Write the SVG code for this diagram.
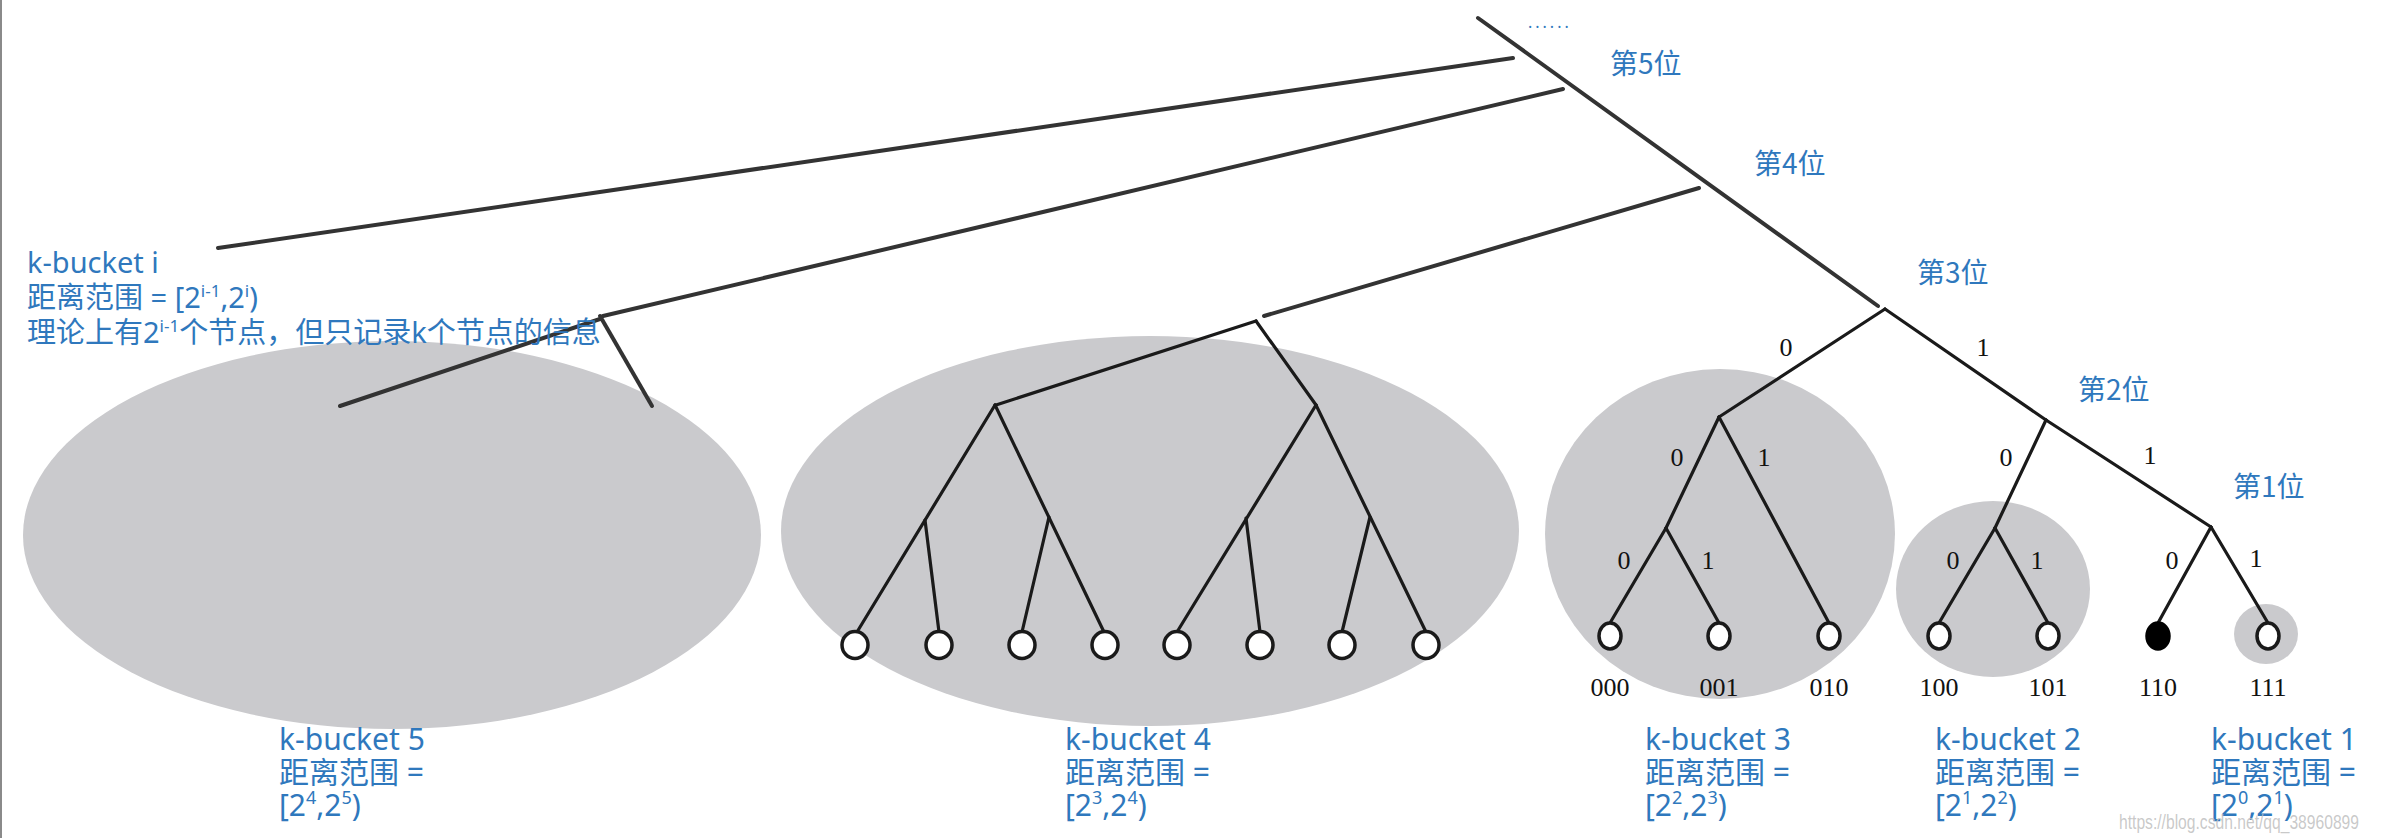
<svg xmlns="http://www.w3.org/2000/svg" width="2382" height="838" viewBox="0 0 2382 838">
<defs>
<style>
.bk { fill: #cacacd; }
.ln { stroke: #333; stroke-width: 4; stroke-linecap: round; fill: none; }
.tr { stroke: #1a1a1a; stroke-width: 3.2; stroke-linecap: round; fill: none; }
.lf { fill: #fff; stroke: #1a1a1a; stroke-width: 3.5; }
.lbl { font-family: "Noto Sans", "Noto Sans CJK SC", sans-serif; fill: #2f78bd; }
.big { font-size: 30px; }
.top { font-size: 29px; }
.pos { font-family: "Noto Sans CJK SC", "Noto Sans", sans-serif; font-size: 28px; fill: #2f78bd; }
.num { font-family: "Liberation Serif", serif; font-size: 26px; fill: #111; text-anchor: middle; }
</style>
</defs>
<rect width="2382" height="838" fill="#fff"/>
<line x1="1" y1="0" x2="1" y2="838" stroke="#8a8a8a" stroke-width="2"/>

<g id="buckets">
  <ellipse id="bucket5" class="bk" cx="392" cy="535" rx="369" ry="194"/>
  <ellipse id="bucket4" class="bk" cx="1150" cy="531" rx="369" ry="195"/>
  <ellipse id="bucket3" class="bk" cx="1720" cy="534" rx="175" ry="165"/>
  <ellipse id="bucket2" class="bk" cx="1993" cy="589" rx="97" ry="88"/>
  <ellipse id="bucket1" class="bk" cx="2266" cy="634" rx="32" ry="30"/>
</g>

<g id="connectors">
  <!-- spine -->
  <line class="ln" x1="1478" y1="18" x2="1878" y2="306"/>
  <!-- to bucket i -->
  <line class="ln" x1="218" y1="248" x2="1513" y2="58"/>
  <!-- to bucket 5 -->
  <line class="ln" x1="603" y1="316" x2="1563" y2="89"/>
  <line class="ln" x1="600" y1="319" x2="340" y2="406"/>
  <line class="ln" x1="600" y1="316" x2="652" y2="406"/>
  <!-- to bucket 4 -->
  <line class="ln" x1="1264" y1="316" x2="1699" y2="188"/>
  <!-- bucket 4 tree -->
  <line class="tr" x1="1256" y1="321" x2="996" y2="405"/>
  <line class="tr" x1="1256" y1="321" x2="1316" y2="405"/>
  <line class="tr" x1="995" y1="405" x2="857" y2="632"/>
  <line class="tr" x1="925" y1="520" x2="939" y2="632"/>
  <line class="tr" x1="995" y1="405" x2="1104" y2="632"/>
  <line class="tr" x1="1049" y1="517" x2="1022" y2="632"/>
  <line class="tr" x1="1316" y1="405" x2="1177" y2="632"/>
  <line class="tr" x1="1246" y1="518" x2="1260" y2="632"/>
  <line class="tr" x1="1316" y1="405" x2="1426" y2="632"/>
  <line class="tr" x1="1370" y1="517" x2="1342" y2="632"/>
  <!-- right tree -->
  <line class="tr" x1="1885" y1="309" x2="1719" y2="417"/>
  <line class="tr" x1="1885" y1="309" x2="2046" y2="420"/>
  <line class="tr" x1="1719" y1="417" x2="1666" y2="528"/>
  <line class="tr" x1="1719" y1="417" x2="1829" y2="623"/>
  <line class="tr" x1="1666" y1="528" x2="1610" y2="623"/>
  <line class="tr" x1="1666" y1="528" x2="1719" y2="623"/>
  <line class="tr" x1="2046" y1="420" x2="1995" y2="528"/>
  <line class="tr" x1="2046" y1="420" x2="2211" y2="527"/>
  <line class="tr" x1="1995" y1="528" x2="1939" y2="623"/>
  <line class="tr" x1="1995" y1="528" x2="2048" y2="623"/>
  <line class="tr" x1="2211" y1="527" x2="2158" y2="623"/>
  <line class="tr" x1="2211" y1="527" x2="2268" y2="623"/>
</g>

<g id="leaves4">
  <ellipse id="b4l1" class="lf" cx="855" cy="645" rx="13" ry="13.5"/>
  <ellipse id="b4l2" class="lf" cx="939" cy="645" rx="13" ry="13.5"/>
  <ellipse id="b4l3" class="lf" cx="1022" cy="645" rx="13" ry="13.5"/>
  <ellipse id="b4l4" class="lf" cx="1105" cy="645" rx="13" ry="13.5"/>
  <ellipse id="b4l5" class="lf" cx="1177" cy="645" rx="13" ry="13.5"/>
  <ellipse id="b4l6" class="lf" cx="1260" cy="645" rx="13" ry="13.5"/>
  <ellipse id="b4l7" class="lf" cx="1342" cy="645" rx="13" ry="13.5"/>
  <ellipse id="b4l8" class="lf" cx="1426" cy="645" rx="13" ry="13.5"/>
</g>

<g id="leaves">
  <g id="leaf000"><ellipse class="lf" cx="1610" cy="636" rx="11" ry="13"/><text class="num" x="1610" y="696">000</text></g>
  <g id="leaf001"><ellipse class="lf" cx="1719" cy="636" rx="11" ry="13"/><text class="num" x="1719" y="696">001</text></g>
  <g id="leaf010"><ellipse class="lf" cx="1829" cy="636" rx="11" ry="13"/><text class="num" x="1829" y="696">010</text></g>
  <g id="leaf100"><ellipse class="lf" cx="1939" cy="636" rx="11" ry="13"/><text class="num" x="1939" y="696">100</text></g>
  <g id="leaf101"><ellipse class="lf" cx="2048" cy="636" rx="11" ry="13"/><text class="num" x="2048" y="696">101</text></g>
  <g id="leaf110"><ellipse cx="2158" cy="636" rx="11" ry="13" fill="#000" stroke="#000" stroke-width="3.5"/><text class="num" x="2158" y="696">110</text></g>
  <g id="leaf111"><ellipse class="lf" cx="2268" cy="636" rx="11" ry="13"/><text class="num" x="2268" y="696">111</text></g>
</g>

<g id="edge-labels">
  <text class="num" x="1786" y="356">0</text>
  <text class="num" x="1983" y="356">1</text>
  <text class="num" x="1677" y="466">0</text>
  <text class="num" x="1764" y="466">1</text>
  <text class="num" x="1624" y="569">0</text>
  <text class="num" x="1708" y="569">1</text>
  <text class="num" x="2006" y="466">0</text>
  <text class="num" x="2150" y="464">1</text>
  <text class="num" x="1953" y="569">0</text>
  <text class="num" x="2037" y="569">1</text>
  <text class="num" x="2172" y="569">0</text>
  <text class="num" x="2256" y="567">1</text>
</g>

<g id="bit-labels">
  <text class="lbl" x="1528" y="28" font-size="16" letter-spacing="3">......</text>
  <text class="pos" x="1610" y="74">第5位</text>
  <text class="pos" x="1754" y="174">第4位</text>
  <text class="pos" x="1917" y="283">第3位</text>
  <text class="pos" x="2078" y="400">第2位</text>
  <text class="pos" x="2233" y="497">第1位</text>
</g>

<g id="label-bucket-i" class="lbl top">
  <text x="27" y="273">k-bucket i</text>
  <text x="27" y="308">距离范围 = [2<tspan font-size="17" dy="-11">i-1</tspan><tspan dy="11">,2</tspan><tspan font-size="17" dy="-11">i</tspan><tspan dy="11">)</tspan></text>
  <text x="27" y="343">理论上有2<tspan font-size="17" dy="-11">i-1</tspan><tspan dy="11">个节点，但只记录k个节点的信息</tspan></text>
</g>

<g id="label-bucket5" class="lbl big">
  <text x="279" y="750">k-bucket 5</text>
  <text x="279" y="783">距离范围 =</text>
  <text x="279" y="816">[2<tspan font-size="18" dy="-12">4</tspan><tspan dy="12">,2</tspan><tspan font-size="18" dy="-12">5</tspan><tspan dy="12">)</tspan></text>
</g>
<g id="label-bucket4" class="lbl big">
  <text x="1065" y="750">k-bucket 4</text>
  <text x="1065" y="783">距离范围 =</text>
  <text x="1065" y="816">[2<tspan font-size="18" dy="-12">3</tspan><tspan dy="12">,2</tspan><tspan font-size="18" dy="-12">4</tspan><tspan dy="12">)</tspan></text>
</g>
<g id="label-bucket3" class="lbl big">
  <text x="1645" y="750">k-bucket 3</text>
  <text x="1645" y="783">距离范围 =</text>
  <text x="1645" y="816">[2<tspan font-size="18" dy="-12">2</tspan><tspan dy="12">,2</tspan><tspan font-size="18" dy="-12">3</tspan><tspan dy="12">)</tspan></text>
</g>
<g id="label-bucket2" class="lbl big">
  <text x="1935" y="750">k-bucket 2</text>
  <text x="1935" y="783">距离范围 =</text>
  <text x="1935" y="816">[2<tspan font-size="18" dy="-12">1</tspan><tspan dy="12">,2</tspan><tspan font-size="18" dy="-12">2</tspan><tspan dy="12">)</tspan></text>
</g>
<g id="label-bucket1" class="lbl big">
  <text x="2211" y="750">k-bucket 1</text>
  <text x="2211" y="783">距离范围 =</text>
  <text x="2211" y="816">[2<tspan font-size="18" dy="-12">0</tspan><tspan dy="12">,2</tspan><tspan font-size="18" dy="-12">1</tspan><tspan dy="12">)</tspan></text>
</g>

<text id="watermark" x="2119" y="829" font-family="Liberation Sans, sans-serif" font-size="20" fill="#bfbfbf" fill-opacity="0.85" textLength="240" lengthAdjust="spacingAndGlyphs">https://blog.csdn.net/qq_38960899</text>
</svg>
